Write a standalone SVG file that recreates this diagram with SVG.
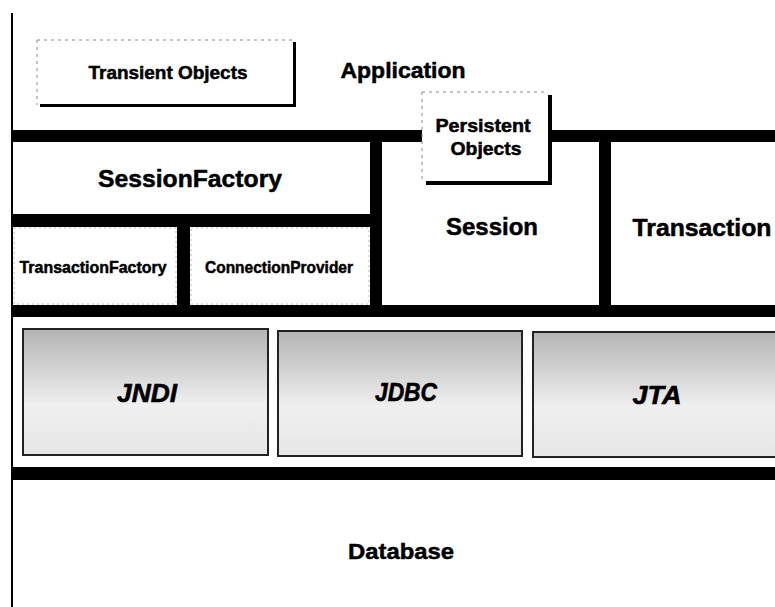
<svg xmlns="http://www.w3.org/2000/svg" width="775" height="607" viewBox="0 0 775 607">
  <style>
    .bar { fill: #000; }
    .lbl { font-family: "Liberation Sans", Arial, sans-serif; font-weight: bold; fill: #000; stroke: #000; stroke-width: 0.5; text-anchor: middle; }
    .lib { font-family: "Liberation Sans", Arial, sans-serif; font-weight: bold; font-style: italic; fill: #000; stroke: #000; stroke-width: 0.6; text-anchor: middle; }
    .dotted { fill: none; stroke: #888; stroke-width: 1; stroke-dasharray: 3 4; }
    .shadow { fill: #000; }
    .libbox { fill: url(#halftone); stroke: #222; stroke-width: 2; }
    .sub { fill: #fff; stroke: #bbb; stroke-width: 1; stroke-dasharray: 2 3; }
  </style>
  <defs>
    <linearGradient id="halftone" x1="0" y1="0" x2="0" y2="1">
      <stop offset="0" stop-color="#b4b4b4"/>
      <stop offset="0.35" stop-color="#d6d6d6"/>
      <stop offset="0.6" stop-color="#efefef"/>
      <stop offset="1" stop-color="#e6e6e6"/>
    </linearGradient>
  </defs>
  <rect x="0" y="0" width="775" height="607" fill="#fff"/>

  <g id="frame">
    <rect class="bar" x="11" y="13" width="2" height="594"/>
    <rect class="bar" x="12" y="130" width="763" height="12"/>
    <rect class="bar" x="370" y="130" width="12" height="187"/>
    <rect class="bar" x="599" y="130" width="12" height="187"/>
    <rect class="bar" x="12" y="214" width="358" height="13"/>
    <rect class="bar" x="177" y="214" width="13" height="93"/>
    <rect class="bar" x="12" y="305" width="763" height="12"/>
    <rect class="bar" x="12" y="467" width="763" height="13"/>
  </g>

  <g id="application">
    <text class="lbl" x="403" y="78" font-size="22" textLength="125" lengthAdjust="spacingAndGlyphs">Application</text>
  </g>

  <g id="transient-objects">
    <rect x="37" y="40" width="257" height="65" fill="#fff"/>
    <path class="dotted" d="M37 40 H294 M37 40 V105"/>
    <rect class="shadow" x="293" y="42" width="3" height="65"/>
    <rect class="shadow" x="40" y="104" width="256" height="3"/>
    <text class="lbl" x="168" y="79" font-size="18" textLength="159" lengthAdjust="spacingAndGlyphs">Transient Objects</text>
  </g>

  <g id="session-factory">
    <text class="lbl" x="190" y="187" font-size="24" textLength="184" lengthAdjust="spacingAndGlyphs">SessionFactory</text>
  </g>

  <g id="transaction-factory">
    <rect class="sub" x="14" y="228" width="162" height="76"/>
    <text class="lbl" x="93" y="273" font-size="17" textLength="147" lengthAdjust="spacingAndGlyphs">TransactionFactory</text>
  </g>

  <g id="connection-provider">
    <rect class="sub" x="191" y="228" width="178" height="76"/>
    <text class="lbl" x="279" y="273" font-size="17" textLength="148" lengthAdjust="spacingAndGlyphs">ConnectionProvider</text>
  </g>

  <g id="session">
    <text class="lbl" x="492" y="235" font-size="24" textLength="92" lengthAdjust="spacingAndGlyphs">Session</text>
  </g>

  <g id="persistent-objects">
    <rect x="422" y="92" width="128" height="90" fill="#fff"/>
    <path class="dotted" d="M422 92 H548 M422 92 V180"/>
    <rect class="shadow" x="548" y="95" width="4" height="90"/>
    <rect class="shadow" x="426" y="181" width="126" height="4"/>
    <text class="lbl" x="483" y="132" font-size="18" textLength="95" lengthAdjust="spacingAndGlyphs">Persistent</text>
    <text class="lbl" x="486" y="155" font-size="18" textLength="71" lengthAdjust="spacingAndGlyphs">Objects</text>
  </g>

  <g id="transaction">
    <text class="lbl" x="702" y="236" font-size="24" textLength="139" lengthAdjust="spacingAndGlyphs">Transaction</text>
  </g>

  <g id="jndi">
    <rect class="libbox" x="23" y="329" width="245" height="126"/>
    <text class="lib" x="147" y="402" font-size="26" textLength="60" lengthAdjust="spacingAndGlyphs">JNDI</text>
  </g>

  <g id="jdbc">
    <rect class="libbox" x="278" y="331" width="244" height="125"/>
    <text class="lib" x="406" y="401" font-size="26" textLength="62" lengthAdjust="spacingAndGlyphs">JDBC</text>
  </g>

  <g id="jta">
    <rect class="libbox" x="533" y="332" width="250" height="125"/>
    <text class="lib" x="657" y="404" font-size="26" textLength="49" lengthAdjust="spacingAndGlyphs">JTA</text>
  </g>

  <g id="database">
    <text class="lbl" x="401" y="559" font-size="22" textLength="106" lengthAdjust="spacingAndGlyphs">Database</text>
  </g>
</svg>
